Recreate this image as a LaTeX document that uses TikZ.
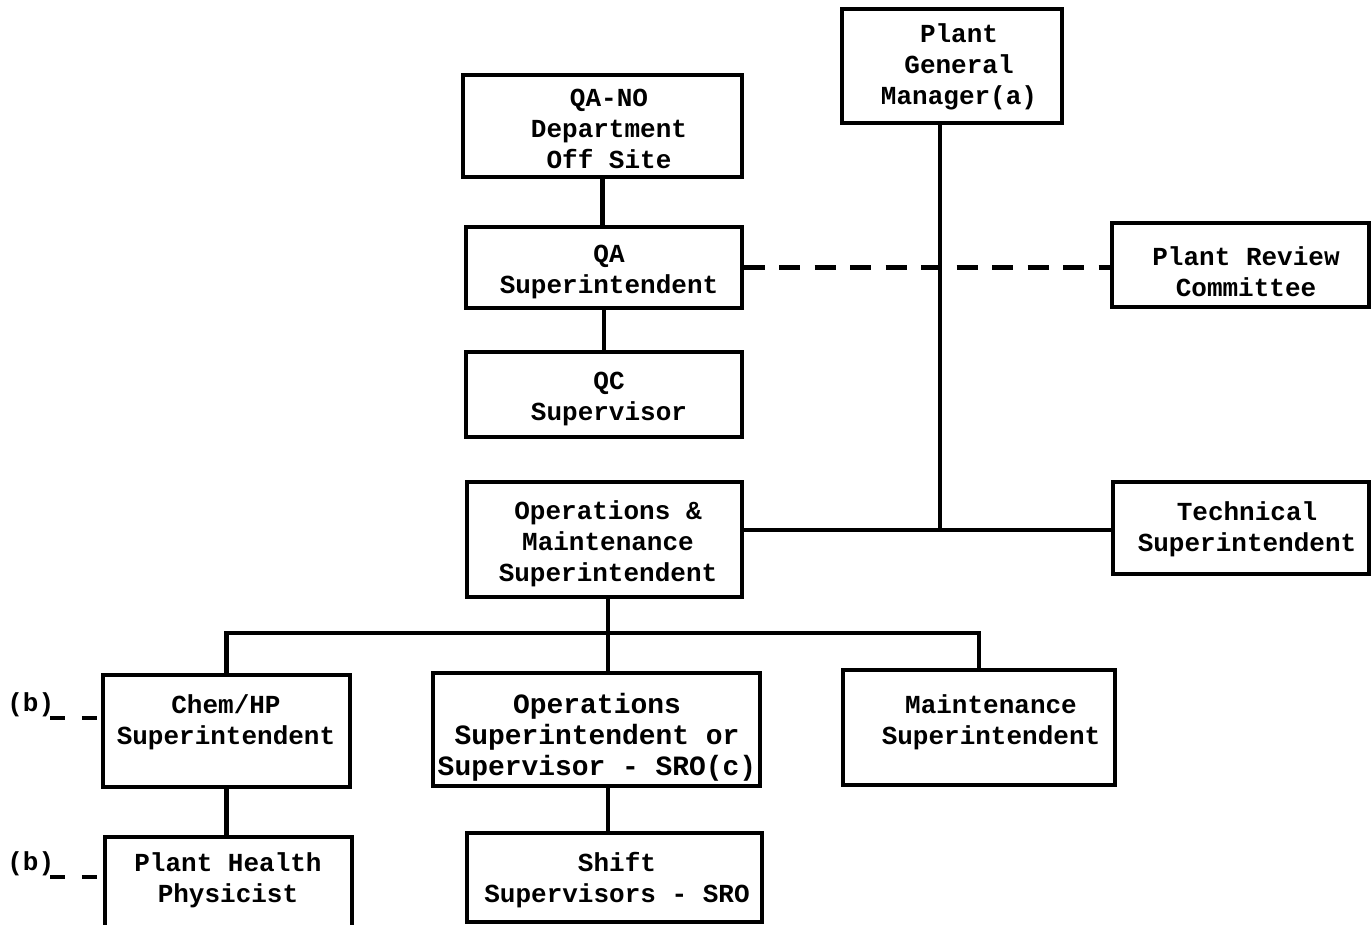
\documentclass[tikz,border=0pt]{standalone}
\usepackage{fontspec}
\setmonofont{Liberation Mono}
\usepackage{tikz}
\usetikzlibrary{positioning, calc}

\begin{document}
\begin{tikzpicture}[
    x=0.02cm, y=-0.02cm,
    box/.style={draw, line width=2pt, inner sep=0pt},
    txt/.style={align=center, inner sep=0pt, font=\fontsize{14.8}{17.6}\selectfont\ttfamily\bfseries},
    link/.style={line width=2.4pt},
    dotted link/.style={line width=2.4pt, dash pattern=on 0.42cm off 0.29cm},
    note dash/.style={line width=2.2pt, dash pattern=on 0.3cm off 0.34cm},
]
    \useasboundingbox (0,0) rectangle (1371,925);
    \clip (0,0) rectangle (1371,925);

    % Top of the chart
    \node[box, minimum width=4.40cm, minimum height=2.28cm] (pgm) at (952,66) {};
    \node[txt] (pgm-t) at (959,67) {Plant\\General\\Manager(a)};
    \node[box, minimum width=5.58cm, minimum height=2.04cm] (qano) at (602.5,126) {};
    \node[txt] (qano-t) at (609,129) {QA-NO\\Department\\Off Site};
    \node[box, minimum width=5.52cm, minimum height=1.62cm] (qasup) at (604,267.5) {};
    \node[txt] (qasup-t) at (609,272) {QA\\Superintendent};
    \node[box, minimum width=5.52cm, minimum height=1.70cm] (qcsup) at (604,394.5) {};
    \node[txt] (qcsup-t) at (609,399) {QC\\Supervisor};
    \node[box, minimum width=5.14cm, minimum height=1.68cm] (prc) at (1240.5,265) {};
    \node[txt] (prc-t) at (1246,272) {Plant Review\\Committee};

    % Middle row
    \node[box, minimum width=5.50cm, minimum height=2.30cm] (omsup) at (604.5,539.5) {};
    \node[txt] (omsup-t) at (608,544) {Operations \&\\Maintenance\\Superintendent};
    \node[box, minimum width=5.12cm, minimum height=1.84cm] (tech) at (1241,528) {};
    \node[txt] (tech-t) at (1247,529) {Technical\\Superintendent};

    % Lower rows
    \node[box, minimum width=4.94cm, minimum height=2.24cm] (chem) at (226.5,731) {};
    \node[txt] (chem-t) at (226,722) {Chem/HP\\Superintendent};
    \node[box, minimum width=6.54cm, minimum height=2.26cm] (ops) at (596.5,729.5) {};
    \node[txt, font=\fontsize{15.9}{17.6}\selectfont\ttfamily\bfseries] (ops-t) at (597,737) {Operations\\Superintendent or\\Supervisor - SRO(c)};
    \node[box, minimum width=5.44cm, minimum height=2.30cm] (maint) at (979,727.5) {};
    \node[txt] (maint-t) at (991,722) {Maintenance\\Superintendent};
    \node[box, minimum width=4.94cm, minimum height=2.26cm] (php) at (228.5,893.5) {};
    \node[txt] (php-t) at (228,880) {Plant Health\\Physicist};
    \node[box, minimum width=5.90cm, minimum height=1.78cm] (shift) at (614.5,877.5) {};
    \node[txt] (shift-t) at (617,880) {Shift\\Supervisors - SRO};

    % Footnote marks
    \node[txt, anchor=base west] (b1) at (7,711) {(b)};
    \node[txt, anchor=base west] (b2) at (7,870) {(b)};
    \coordinate (b1tail) at (50,718);
    \coordinate (b2tail) at (50,877);
    \draw[note dash] (b1tail) -- (b1tail -| chem.west);
    \draw[note dash] (b2tail) -- (b2tail -| php.west);

    % Connectors
    \coordinate (tee) at (940,530);
    \coordinate (bus) at (608,633);
    \draw[link] (qano.south) -- (qano.south |- qasup.north);
    \draw[link] (qasup.south) -- (qasup.south |- qcsup.north);
    \draw[link] (tee |- pgm.south) -- (tee);
    \draw[link] (omsup.east |- tee) -- (tee -| tech.west);
    \draw[dotted link] (qasup.east) -- (qasup.east -| prc.west);

    \draw[link] (bus |- omsup.south) -- (bus |- ops.north);
    \draw[link] (chem.north) |- (bus) -| (maint.north);
    \draw[link] (chem.south) -- (chem.south |- php.north);
    \draw[link] (bus |- ops.south) -- (bus |- shift.north);
\end{tikzpicture}
\end{document}
